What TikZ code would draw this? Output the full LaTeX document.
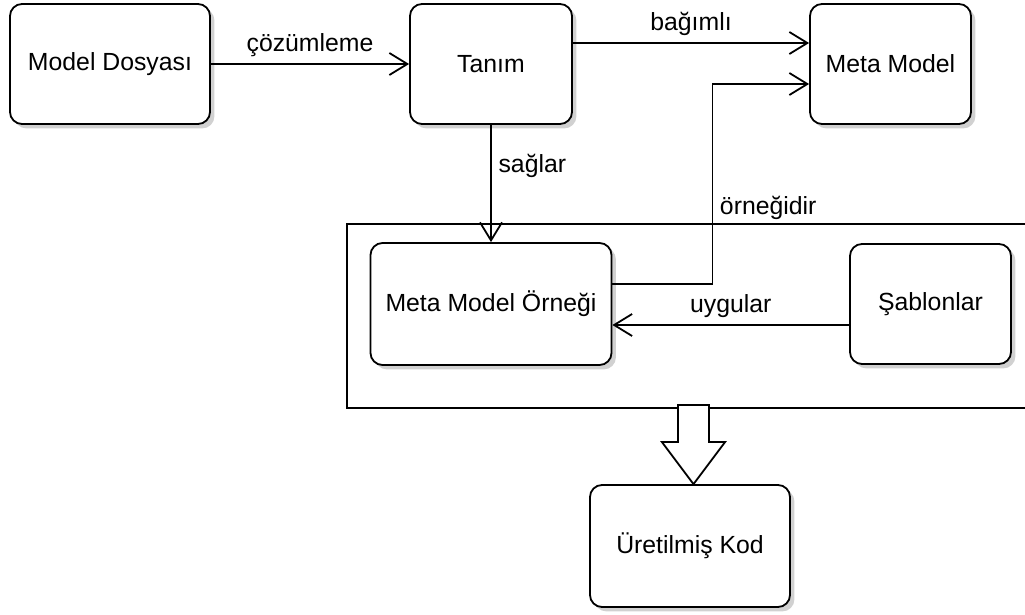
\documentclass[tikz,border=0pt]{standalone}
\usepackage{fontspec}
\setmainfont{Liberation Sans}
\usepackage{tikz}
\usetikzlibrary{positioning}
\usetikzlibrary{arrows.meta}
\usetikzlibrary{shadows}

\tikzset{
	kutu/.style={draw, rounded corners=6pt, fill=white, drop shadow={shadow xshift=2.2pt, shadow yshift=-2.2pt, fill=black!18, opacity=1}},
}

\begin{document}
\begin{tikzpicture}[x=0.5pt, y=-0.5pt, line width=0.9pt, font=\fontsize{12.4}{14}\selectfont, >={Straight Barb[length=9pt,width=11pt]}]
				\useasboundingbox (0,0) rectangle (1025,615);
				\draw (347,224) rectangle (1040,408);
				
				\node[kutu, minimum width=100pt, minimum height=60pt] (A) at (110,64) {Model Dosyası};
				\node[kutu, minimum width=81pt, minimum height=60pt] (B) at (491,64) {Tanım};
				\node[kutu, minimum width=80.5pt, minimum height=60pt] (C) at (890.5,64) {Meta Model};
				\node[kutu, minimum width=120.5pt, minimum height=61pt] (D) at (491,304) {Meta Model Örneği};
				\node[kutu, minimum width=80.5pt, minimum height=60pt] (E) at (930.5,304) {Şablonlar};
				\node[kutu, minimum width=100pt, minimum height=61pt] (F) at (690,546) {Üretilmiş Kod};
				\coordinate (G) at ([xshift=1.75pt]F.north);
				
				\draw[->]  (A) -- (B) node[midway,above] {çözümleme};
				\draw[->]  ([yshift=10.5pt]B.east) -- ([yshift=10.5pt]C.west) node[midway,above] {bağımlı};
				\draw[->]  (B) -- (D) node[pos=0.35,right] {sağlar};
				\draw[->]  ([yshift=10pt]D.east) -- ++(100,0) |- node[pos=0.19,right] {örneğidir} ([yshift=-10pt]C.west);
				\draw[->]  ([yshift=-10.5pt]E.west) -- ([yshift=-10.5pt]D.east) node[midway,above] {uygular};
				\draw[fill=white]  (G) -- ++(-31.5,-42) -- ++(16,0) -- ++(0,-37) -- ++(31,0) -- ++(0,37) -- ++(16,0) -- cycle;
			\end{tikzpicture}
\end{document}
